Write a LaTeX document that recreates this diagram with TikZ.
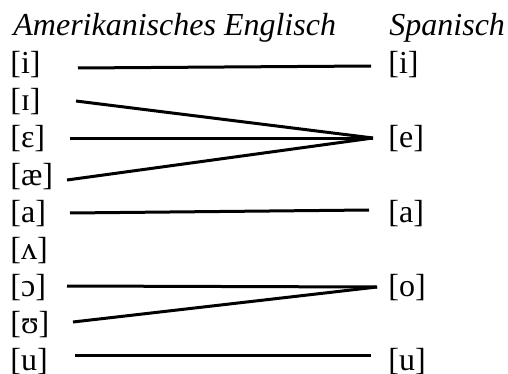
\documentclass[tikz,border=0pt]{standalone}
\usepackage{fontspec}
\setmainfont{Liberation Serif}
\begin{document}
\begin{tikzpicture}[x=0.5pt,y=-0.5pt,
  lab/.style={anchor=base west,inner sep=0pt,font=\fontsize{16}{19}\selectfont},
  ttl/.style={lab,font=\fontsize{16}{19}\selectfont\itshape},
  link/.style={line width=1.5pt}]
\useasboundingbox (0,0) rectangle (508,374);
% titles
\node[ttl] (tE) at (13,36) {Amerikanisches Englisch};
\node[ttl] (tS) at (389,36) {Spanisch};
% left column
\node[lab] (Li) at (10,74) {[i]};
\node[lab] (LI) at (10,111) {[ɪ]};
\node[lab] (Le) at (10,148) {[ɛ]};
\node[lab] (Lae) at (10,185) {[æ]};
\node[lab] (La) at (10,222) {[a]};
\node[lab] (Lv) at (10,259) {[ʌ]};
\node[lab] (Lo) at (10,296) {[ɔ]};
\node[lab] (Lu) at (10,333) {[ʊ]};
\node[lab] (Luu) at (10,370) {[u]};
% right column
\node[lab] (Ri) at (388,74) {[i]};
\node[lab] (Re) at (388,148) {[e]};
\node[lab] (Ra) at (388,222) {[a]};
\node[lab] (Ro) at (388,296) {[o]};
\node[lab] (Ru) at (388,370) {[u]};
% connector end points
\coordinate (pi1) at (78,68);   \coordinate (qi) at (371,66);
\coordinate (pI) at (76,101);
\coordinate (pe) at (70,138);   \coordinate (qe) at (373,138);
\coordinate (pae) at (67,180);
\coordinate (pa) at (70,213);   \coordinate (qa) at (369,210);
\coordinate (po) at (67,286);   \coordinate (qo) at (377,287);
\coordinate (pu) at (73,322);
\coordinate (puu) at (75,355);  \coordinate (qu) at (371,355);
% connectors
\draw[link] (pi1) -- (qi);
\draw[link] (pI) -- (qe);
\draw[link] (pe) -- (qe);
\draw[link] (pae) -- (qe);
\draw[link] (pa) -- (qa);
\draw[link] (po) -- (qo);
\draw[link] (pu) -- (qo);
\draw[link] (puu) -- (qu);
\end{tikzpicture}
\end{document}
